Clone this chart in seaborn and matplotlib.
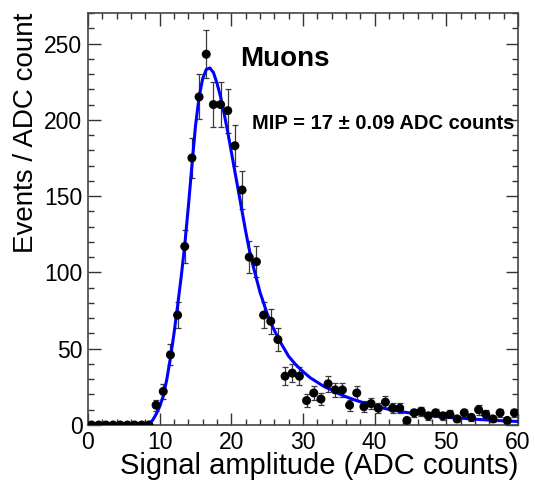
import numpy as np
import pandas as pd
import matplotlib
matplotlib.use("Agg")
import matplotlib.pyplot as plt
from matplotlib.ticker import MultipleLocator
import seaborn as sns

# ---------------- data ----------------
counts = [0, 0, 0, 0, 0, 0, 0, 0, 0,
          13, 22, 46, 72, 117, 175, 215, 243, 210, 210,
          206, 183, 154, 110, 107, 72, 68, 56, 32, 34,
          32, 16, 21, 17, 27, 23, 23, 13, 21, 12,
          14, 11, 15, 11, 11, 3, 8, 9, 6, 8,
          6, 7, 4, 8, 5, 10, 7, 4, 8, 3, 8]
errors = [0, 0, 0, 0, 0, 0, 0, 0, 0,
          3.6, 4.7, 6.8, 8.5, 10.8, 13.2, 14.7, 15.6, 14.5, 14.5,
          14.4, 13.5, 12.4, 10.5, 10.3, 8.5, 8.2, 7.5, 5.7, 5.8,
          5.7, 4.0, 4.6, 4.1, 5.2, 4.8, 4.8, 3.6, 4.6, 3.5,
          3.7, 3.3, 3.9, 3.3, 3.3, 1.7, 2.8, 3.0, 2.4, 2.8,
          2.4, 2.6, 2.0, 2.8, 2.2, 3.2, 2.6, 2.0, 2.8, 1.7, 2.8]
bin_centers = np.arange(0.5, 60.0, 1.0)

fit_x = [0.0, 7.0, 8.0, 8.5, 9.0, 9.5, 10.0, 10.5, 11.0, 11.5, 12.0, 12.5, 13.0,
         13.5, 14.0, 14.5, 15.0, 15.5, 16.0, 16.5, 17.0, 17.5, 18.0, 18.5,
         19.0, 19.5, 20.0, 20.5, 21.0, 21.5, 22.0, 22.5, 23.0, 23.5, 24.0,
         24.5, 25.0, 25.5, 26.0, 27.0, 28.0, 29.0, 30.0, 31.0, 32.0, 33.0,
         34.0, 35.0, 36.0, 37.0, 38.0, 39.0, 40.0, 42.0, 44.0, 46.0, 48.0,
         50.0, 52.0, 54.0, 56.0, 58.0, 60.0]
fit_y = [0.0, 0.0, 0.3, 1.0, 3.0, 7.0, 12.0, 19.0, 30.0, 44.0, 60.0, 78.0, 97.0,
         118.0, 143.0, 170.0, 196.0, 215.0, 227.0, 233.0, 234.0, 231.0, 224.0, 215.0,
         204.0, 192.0, 179.0, 166.0, 153.0, 140.0, 127.0, 115.0, 105.0, 96.0, 87.0,
         80.0, 73.0, 67.0, 62.0, 53.0, 45.0, 39.5, 35.0, 31.0, 28.0, 25.0,
         23.0, 20.5, 18.5, 16.8, 15.2, 13.8, 12.5, 10.2, 8.5, 7.2, 6.1,
         5.2, 4.5, 3.8, 3.2, 2.7, 2.3]

x_label = "Signal amplitude (ADC counts)"
y_label = "Events / ADC count"
title_text = "Muons"
mip_text = "MIP = 17 \u00b1 0.09 ADC counts"

# ---------------- plot ----------------
sns.set_theme(style="ticks")
plt.rcParams["font.family"] = ["Liberation Sans", "DejaVu Sans"]
plt.rcParams["text.color"] = "black"
plt.rcParams["axes.labelcolor"] = "black"

hist = pd.DataFrame({"x": bin_centers, "y": counts, "err": errors})
fit = pd.DataFrame({"x": fit_x, "y": fit_y})

fig = plt.figure(figsize=(5.35, 4.84), dpi=100)
ax = fig.add_axes([88 / 535, 1 - 425 / 484, 430 / 535, 412 / 484])

nz = hist[hist["err"] > 0]
ax.errorbar(nz["x"], nz["y"], yerr=nz["err"], fmt="none", ecolor="#3a3a3a",
            elinewidth=0.9, capsize=2.2, capthick=0.9, zorder=2)
sns.lineplot(data=fit, x="x", y="y", ax=ax, color="#0000ff", linewidth=2.2,
             sort=False, estimator=None, zorder=3)
sns.scatterplot(data=hist, x="x", y="y", ax=ax, color="black", s=42,
                edgecolor="none", zorder=4)

ax.set_xlim(0, 60)
ax.set_ylim(0, 270)
ax.xaxis.set_major_locator(MultipleLocator(10))
ax.xaxis.set_minor_locator(MultipleLocator(2))
ax.yaxis.set_major_locator(MultipleLocator(50))
ax.yaxis.set_minor_locator(MultipleLocator(10))
ax.tick_params(which="both", direction="in", top=True, right=True,
               color="#333333", width=1.0, labelsize=16.5, labelcolor="black")
ax.tick_params(which="major", length=9, pad=4)
ax.tick_params(which="minor", length=4.5)
for s in ax.spines.values():
    s.set_color("#444444")
    s.set_linewidth(1.2)

ax.set_xlabel(x_label, fontsize=21, loc="right", color="black")
ax.xaxis.set_label_coords(1.0, -0.066)
ax.xaxis.label.set_va("top")
ax.set_ylabel(y_label, fontsize=20, loc="top", color="black")
ax.yaxis.set_label_coords(-0.115, 1.0)

ax.text(21.2, 235, title_text, fontsize=20, fontweight="bold", va="baseline",
        color="black")
ax.text(22.9, 194, mip_text, fontsize=14.5, fontweight="bold", va="baseline",
        color="black")

fig.savefig("out.png", dpi=100)
